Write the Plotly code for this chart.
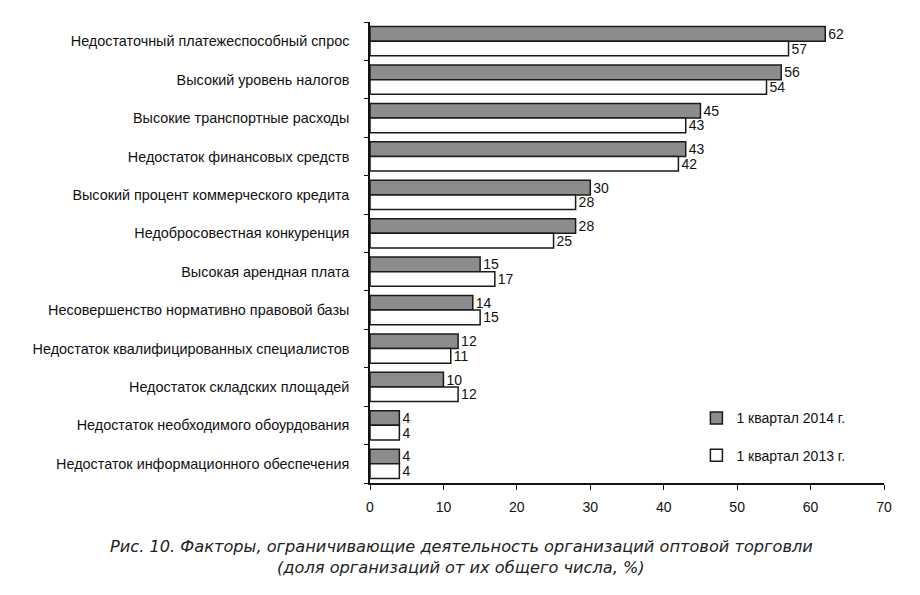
import plotly.graph_objects as go

# factors, top to bottom
factors = [
    "Недостаточный платежеспособный спрос",
    "Высокий уровень налогов",
    "Высокие транспортные расходы",
    "Недостаток финансовых средств",
    "Высокий процент коммерческого кредита",
    "Недобросовестная конкуренция",
    "Высокая арендная плата",
    "Несовершенство нормативно правовой базы",
    "Недостаток квалифицированных специалистов",
    "Недостаток складских площадей",
    "Недостаток необходимого обоурдования",
    "Недостаток информационного обеспечения",
]
q1_2014 = [62, 56, 45, 43, 30, 28, 15, 14, 12, 10, 4, 4]
q1_2013 = [57, 54, 43, 42, 28, 25, 17, 15, 11, 12, 4, 4]
x_ticks = [0, 10, 20, 30, 40, 50, 60, 70]

caption_lines = [
    "Рис. 10. Факторы, ограничивающие деятельность организаций оптовой торговли",
    "(доля организаций от их общего числа, %)",
]

font = "Liberation Sans, Arial, sans-serif"

fig = go.Figure()
fig.add_trace(go.Bar(
    y=factors, x=q1_2014, orientation="h", name="1 квартал 2014 г.",
    marker=dict(color="#8c8c8c", line=dict(color="#1a1a1a", width=1.5)),
    text=q1_2014, textposition="outside", cliponaxis=False, constraintext="none",
    textfont=dict(size=14, color="#111"), legendgroup="a",
))
fig.add_trace(go.Bar(
    y=factors, x=q1_2013, orientation="h", name="1 квартал 2013 г.",
    marker=dict(color="white", line=dict(color="#1a1a1a", width=1.5)),
    text=q1_2013, textposition="outside", cliponaxis=False, constraintext="none",
    textfont=dict(size=14, color="#111"), legendgroup="b",
))
# invisible helper trace so the boundary-tick axis is drawn
fig.add_trace(go.Scatter(x=[0], y=[0], yaxis="y2", mode="markers",
                         marker=dict(opacity=0), showlegend=False, hoverinfo="skip"))

n = len(factors)
fig.update_layout(
    width=920, height=595,
    margin=dict(l=362, r=44, t=14, b=120, autoexpand=False),
    paper_bgcolor="white", plot_bgcolor="white",
    font=dict(family=font, size=14, color="#111"),
    barmode="group", bargap=0.24, bargroupgap=0.0,
    showlegend=True,
    legend=dict(x=0.635, y=0.175, xanchor="left", yanchor="top",
                tracegroupgap=16, font=dict(size=14), itemwidth=30,
                bgcolor="rgba(0,0,0,0)"),
    xaxis=dict(range=[0, 70], tickvals=x_ticks, showline=True, linecolor="#111",
               linewidth=1.5, ticks="outside", ticklen=5, tickcolor="#111",
               showgrid=False, zeroline=False, tickfont=dict(size=14),
               ticklabelstandoff=5, automargin=False),
    yaxis=dict(range=[n - 0.5, -0.5], showline=True, linecolor="#111", linewidth=1.5,
               ticks="", showgrid=False, ticklabelstandoff=16,
               tickfont=dict(size=14.4), automargin=False),
    yaxis2=dict(overlaying="y", range=[n - 0.5, -0.5],
                tickvals=[i - 0.5 for i in range(n + 1)], showticklabels=False,
                ticks="outside", ticklen=5, tickcolor="#111", showgrid=False,
                zeroline=False, side="left", automargin=False),
    annotations=[
        dict(text="<i>" + line + "</i>", xref="paper", yref="paper",
             x=0.178, y=-(546 - 483 + 12 * k * 1.75) / 461, xanchor="center",
             yanchor="middle", showarrow=False,
             font=dict(family="DejaVu Sans, sans-serif", size=16.2, color="#222"))
        for k, line in enumerate(caption_lines)
    ],
)

fig.write_html("out.html")
